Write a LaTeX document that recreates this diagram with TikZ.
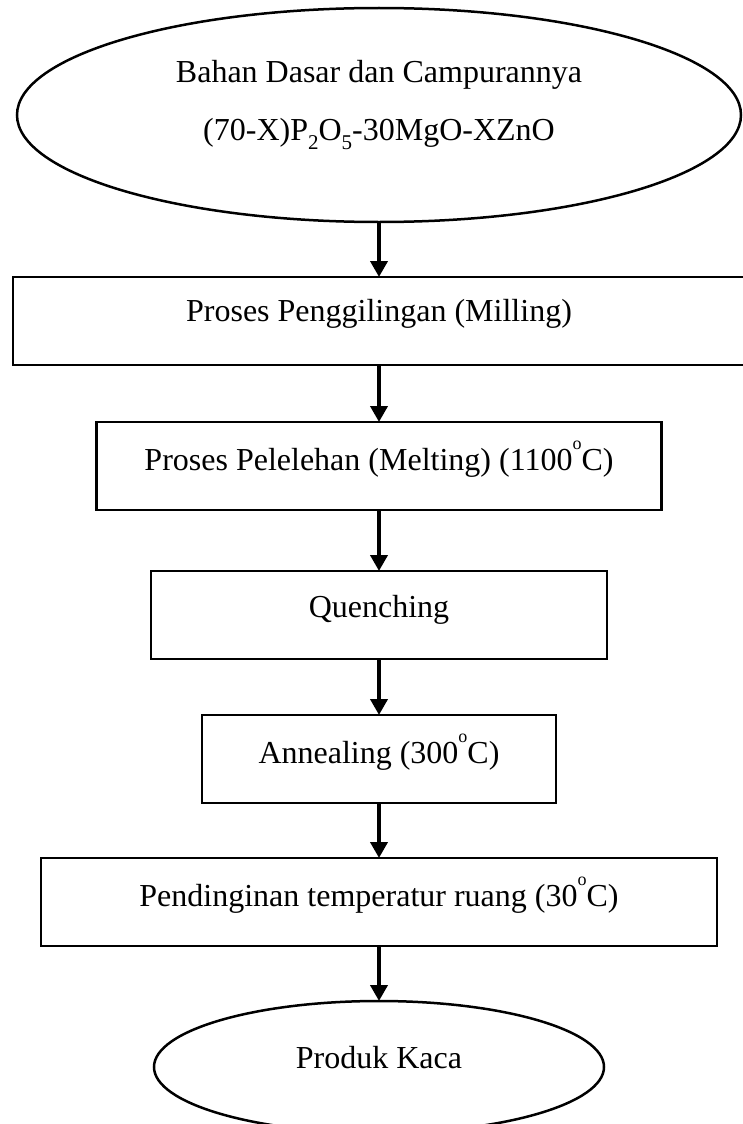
\documentclass[tikz,border=0pt]{standalone}
\usepackage{fontspec}
\setmainfont{Liberation Serif}
\usetikzlibrary{arrows.meta,shapes.geometric,positioning}

\newcommand{\derajat}{\raisebox{21pt}{\fontsize{18}{18}\selectfont o}}
\newcommand{\indeks}[1]{\raisebox{-9pt}{\fontsize{21}{21}\selectfont #1}}

\begin{document}
\begin{tikzpicture}[x=1pt,y=-1pt,
  every node/.style={font=\fontsize{32}{38}\selectfont, outer sep=0pt},
  proses/.style={draw, line width=2.5pt, rectangle, minimum height=88pt, text height=22pt, text depth=14pt},
  terminal/.style={draw, line width=2.5pt, ellipse},
  panah/.style={line width=3.8pt, -{Triangle[width=17pt,length=16pt]}}]
 \useasboundingbox (0,0) rectangle (742,1124);
 \node[terminal, minimum width=724pt, minimum height=214pt, align=center, text height=80pt, text depth=30pt] (bahan) at (379,115) {Bahan Dasar dan Campurannya\\[20pt](70-X)P\indeks{2}O\indeks{5}-30MgO-XZnO};

 \node[proses, below = 55pt of bahan, minimum width=732pt, text depth=22pt] (giling) {Proses Penggilingan (Milling)};
 \node[proses, below = 57pt of giling, minimum width=565pt] (leleh) {Proses Pelelehan (Melting) (1100\derajat C)};
 \node[proses, below = 61pt of leleh, minimum width=456pt, text depth=18pt] (quench) {Quenching};
 \node[proses, below = 56pt of quench, minimum width=354pt] (anneal) {Annealing (300\derajat C)};
 \node[proses, below = 55pt of anneal, minimum width=676pt] (dingin) {Pendinginan temperatur ruang (30\derajat C)};
 \node[terminal, below = 55pt of dingin, minimum width=450pt, minimum height=132pt, text height=22pt, text depth=20pt] (produk) {Produk Kaca};

 \draw[panah] (bahan) -- (giling);
 \draw[panah] (giling) -- (leleh);
 \draw[panah] (leleh) -- (quench);
 \draw[panah] (quench) -- (anneal);
 \draw[panah] (anneal) -- (dingin);
 \draw[panah] (dingin) -- (produk);
\end{tikzpicture}
\end{document}
